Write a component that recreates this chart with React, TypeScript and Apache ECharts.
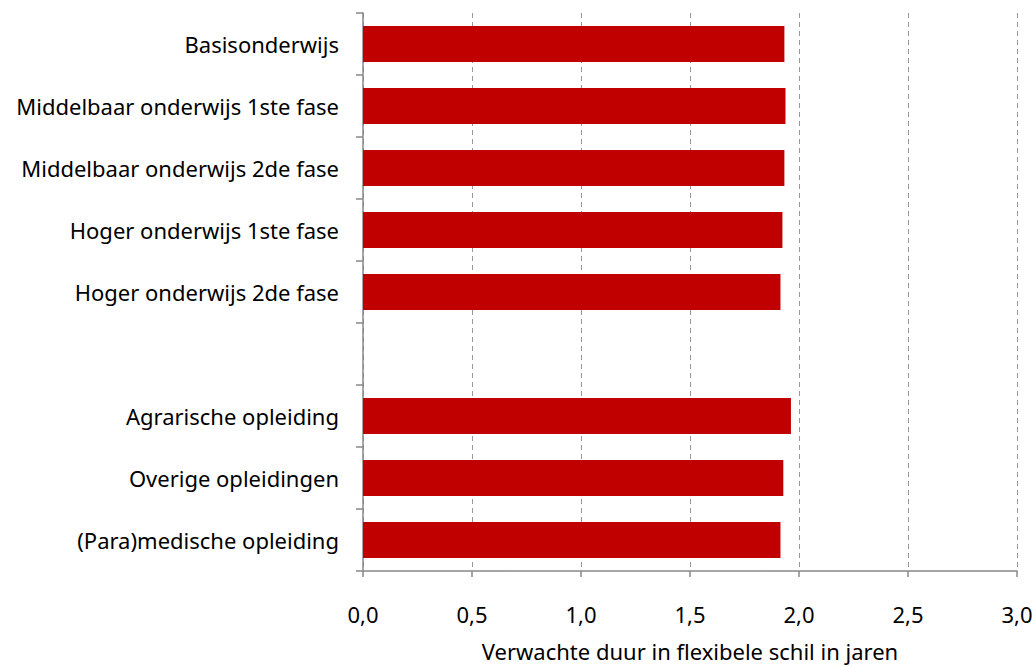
import React, { useEffect, useRef } from "react";
import * as echarts from "echarts";

const categories = [
  "Basisonderwijs",
  "Middelbaar onderwijs 1ste fase",
  "Middelbaar onderwijs 2de fase",
  "Hoger onderwijs 1ste fase",
  "Hoger onderwijs 2de fase",
  "",
  "Agrarische opleiding",
  "Overige opleidingen",
  "(Para)medische opleiding",
];
const values: (number | string)[] = [1.933, 1.938, 1.933, 1.924, 1.915, "-", 1.963, 1.928, 1.915];
const xAxisTitle = "Verwachte duur in flexibele schil in jaren";

export default function App() {
  const ref = useRef<HTMLDivElement>(null);
  useEffect(() => {
    if (!ref.current) return;
    const chart = echarts.init(ref.current, undefined, { renderer: "svg" });
    const font = "Noto Sans";
    chart.setOption({
      animation: false,
      grid: { left: 363, right: 19, top: 13, bottom: 96, containLabel: false, outerBoundsMode: "none" },
      xAxis: {
        type: "value",
        min: 0,
        max: 3,
        interval: 0.5,
        name: xAxisTitle,
        nameLocation: "middle",
        nameGap: 68,
        nameTextStyle: { fontFamily: font, fontSize: 22, lineHeight: 24, color: "#000" },
        axisLine: { show: true, lineStyle: { color: "#888", width: 1.5 } },
        axisTick: { show: true, length: 6, lineStyle: { color: "#888", width: 1.5 } },
        axisLabel: {
          margin: 32,
          fontFamily: font,
          fontSize: 22,
          color: "#000",
          formatter: (v: number) => v.toFixed(1).replace(".", ","),
        },
        splitLine: { show: true, lineStyle: { color: "#999", type: [5, 4], width: 1 } },
      },
      yAxis: {
        type: "category",
        data: categories,
        inverse: true,
        axisLine: { show: true, lineStyle: { color: "#888", width: 1.5 } },
        axisTick: { show: true, length: 7, inside: false, lineStyle: { color: "#888", width: 1.5 } },
        axisLabel: { margin: 24, fontFamily: font, fontSize: 22, color: "#000" },
        splitLine: { show: false },
      },
      series: [
        {
          type: "bar",
          data: values,
          barWidth: "58%",
          itemStyle: { color: "#C00000" },
        },
      ],
    });
    return () => chart.dispose();
  }, []);
  return <div ref={ref} style={{ width: 1036, height: 667, position: "absolute", left: 0, top: 0 }} />;
}
